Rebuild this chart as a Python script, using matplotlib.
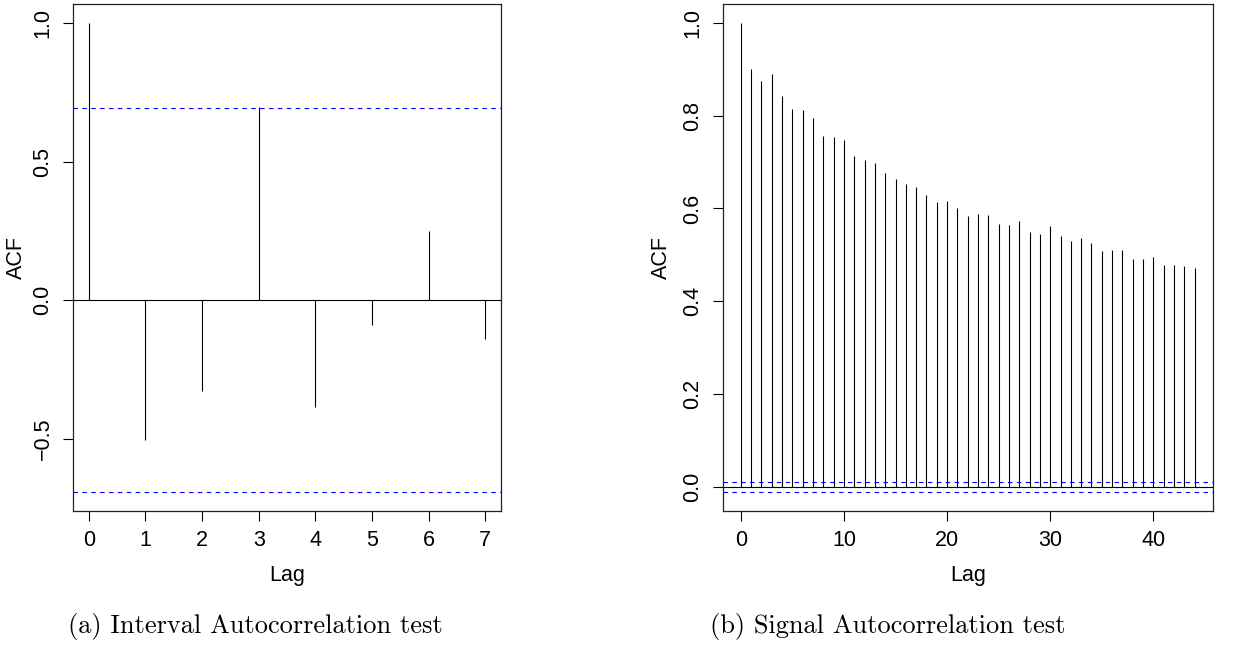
import numpy as np
import matplotlib
matplotlib.use('Agg')
import matplotlib.pyplot as plt

# (a) interval autocorrelation, lags 0..7
interval_lags = np.arange(0, 8)
interval_acf = [1.0, -0.505, -0.326, 0.695, -0.384, -0.091, 0.248, -0.138]
interval_ci = 0.692

# (b) signal autocorrelation, lags 0..44
signal_lags = np.arange(0, 45)
signal_acf = [1.0, 0.900, 0.874, 0.889, 0.842, 0.814, 0.813, 0.794, 0.757, 0.753,
              0.748, 0.713, 0.704, 0.697, 0.677, 0.664, 0.653, 0.647, 0.628, 0.613,
              0.615, 0.600, 0.583, 0.587, 0.586, 0.566, 0.564, 0.574, 0.549, 0.546,
              0.562, 0.540, 0.529, 0.537, 0.525, 0.508, 0.510, 0.511, 0.490, 0.492,
              0.495, 0.479, 0.478, 0.476, 0.471]
signal_ci = 0.0114

left_yticks = [-0.5, 0.0, 0.5, 1.0]
left_yticklabels = ['\u22120.5', '0.0', '0.5', '1.0']
left_xticks = list(range(0, 8))
right_yticks = [0.0, 0.2, 0.4, 0.6, 0.8, 1.0]
right_yticklabels = ['0.0', '0.2', '0.4', '0.6', '0.8', '1.0']
right_xticks = [0, 10, 20, 30, 40]

captions = ['(a) Interval Autocorrelation test', '(b) Signal Autocorrelation test']

plt.rcParams['font.family'] = ['Liberation Sans', 'DejaVu Sans']

W, H = 1241, 649
fig = plt.figure(figsize=(W / 100, H / 100), dpi=100)


def px_axes(x0, x1, y0, y1):
    return fig.add_axes([x0 / W, 1 - y1 / H, (x1 - x0) / W, (y1 - y0) / H])


def r_lim(lo, hi):
    d = (hi - lo) * 0.04
    return lo - d, hi + d


def acf_panel(ax, lags, acf, ci, xticks, yticks, yticklabels, ylab_x):
    ax.vlines(lags, 0, acf, color='black', lw=0.8)
    ax.axhline(0, color='black', lw=0.8)
    for c in (ci, -ci):
        ax.axhline(c, color='#0000FF', lw=0.8, ls=(0, (4, 4)))
    ax.set_xlim(*r_lim(lags[0], lags[-1]))
    ax.set_ylim(*r_lim(min(min(acf), -ci), max(max(acf), ci)))
    ax.set_xticks(xticks)
    ax.set_yticks(yticks)
    ax.set_yticklabels(yticklabels)
    ax.tick_params(axis='both', labelsize=15.5, length=7, width=0.8, pad=7,
                   color='black')
    ax.tick_params(axis='y', labelrotation=90)
    for lbl in ax.get_yticklabels():
        lbl.set_va('center')
    for s in ax.spines.values():
        s.set_linewidth(0.9)
        s.set_color('#222222')
    ax.set_xlabel('Lag', fontsize=15.5)
    ax.set_ylabel('ACF', fontsize=15.5)
    ax.xaxis.label.set_va('center')
    ax.yaxis.label.set_va('center')
    ax.xaxis.set_label_coords(0.5, -0.128)
    ax.yaxis.set_label_coords(ylab_x, 0.5)


ax1 = px_axes(73, 501, 4, 511)
acf_panel(ax1, interval_lags, interval_acf, interval_ci, left_xticks,
          left_yticks, left_yticklabels, -0.133)

ax2 = px_axes(722.7, 1212.7, 4, 511)
acf_panel(ax2, signal_lags, signal_acf, signal_ci, right_xticks,
          right_yticks, right_yticklabels, -0.126)

fig.text(255.5 / W, 1 - 627 / H, captions[0], family='cmr10', fontsize=19,
         ha='center', va='center')
fig.text(888 / W, 1 - 627 / H, captions[1], family='cmr10', fontsize=19,
         ha='center', va='center')

fig.savefig('out.png', dpi=100)
